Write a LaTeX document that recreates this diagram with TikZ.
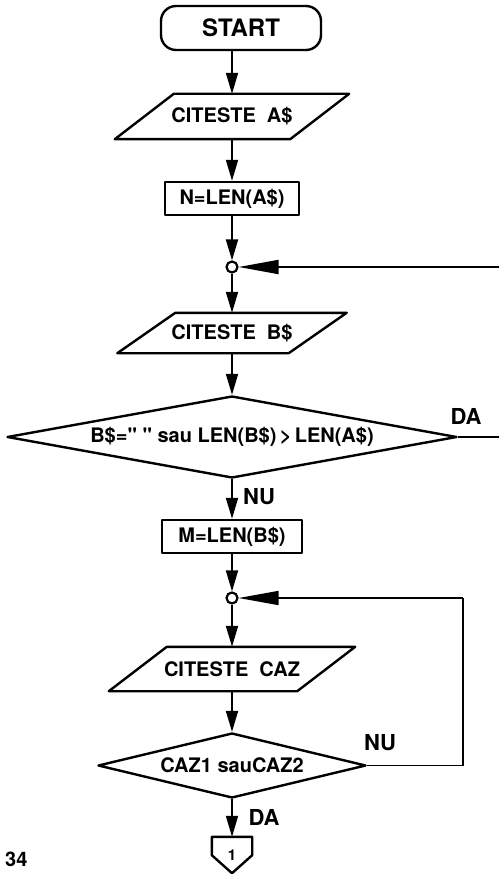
\documentclass[tikz,border=0pt]{standalone}
\usepackage{fontspec}
\setmainfont{TeX Gyre Heros}[Ligatures=TeXOff]
\usetikzlibrary{arrows.meta,shapes.geometric}

% slanted input/output frame drawn around a plain text node
\newcommand\ioframe[2]{%
  \draw[boxline] ([xshift=#2pt]#1.north west) -- ([xshift=#2pt]#1.north east)
    -- ([xshift=-#2pt]#1.south east) -- ([xshift=-#2pt]#1.south west) -- cycle;}

\begin{document}
\begin{tikzpicture}[x=1pt,y=1pt,
  boxline/.style={line width=2.4pt, line join=round},
  boxtext/.style={font=\fontsize{20}{22}\selectfont\bfseries},
  terminal/.style={draw, boxline, rounded corners=15pt, minimum width=160pt,
    minimum height=44pt, inner sep=0pt, font=\fontsize{24}{26}\selectfont\bfseries},
  iobox/.style={boxtext, inner sep=0pt},
  procbox/.style={draw, boxline, boxtext, minimum height=33pt, inner sep=0pt},
  junction/.style={draw, circle, line width=2.2pt, minimum size=11pt, inner sep=0pt},
  decision/.style={draw, diamond, boxline, boxtext, inner sep=2pt},
  exitmark/.style={minimum width=40pt, minimum height=36pt, inner sep=0pt,
    font=\fontsize{15}{15}\selectfont\bfseries},
  lbl/.style={font=\fontsize{22}{22}\selectfont\bfseries, inner sep=0pt},
  link/.style={line width=1.9pt},
  flow/.style={link, -{Triangle[length=21pt,width=12pt]}},
  flowh/.style={link, -{Triangle[length=40pt,width=14pt]}},
  back/.style={line width=1.5pt}]

\useasboundingbox (0,0) rectangle (499,-874);
\fill[white] (0,0) rectangle (499,-874);
\clip (0,0) rectangle (499,-874);

% blocks
\node[terminal] (start) at (241,-28) {START};
\node[iobox, minimum width=175pt, minimum height=45pt] (in1) at (232,-116.5) {CITESTE\ \ A\$};
\ioframe{in1}{29.5}
\node[procbox, minimum width=134pt] (len1) at (232,-198.5) {N=LEN(A\$)};
\node[junction] (j1) at (232,-267) {};
\node[iobox, minimum width=171pt, minimum height=40pt] (in2) at (232,-333) {CITESTE\ \ B\$};
\ioframe{in2}{29}
\node[decision, aspect=6, minimum width=450pt, minimum height=82pt] (d1) at (232,-437)
  {B\$=" " sau LEN(B\$)\,>\,LEN(A\$)};
\node[procbox, minimum width=140pt] (len2) at (232,-536.5) {M=LEN(B\$)};
\node[junction] (j2) at (232,-598) {};
\node[iobox, minimum width=188pt, minimum height=44pt] (in3) at (232,-669) {CITESTE\ \ CAZ};
\ioframe{in3}{29}
\node[decision, aspect=4, minimum width=268pt, minimum height=65pt] (d2) at (232,-765.5)
  {CAZ1 sauCAZ2};
\node[exitmark] (k1) at (232,-855) {1};
\draw[boxline] (k1.north west) -- (k1.north east) -- ([yshift=18pt]k1.south east)
  -- (k1.south) -- ([yshift=18pt]k1.south west) -- cycle;

% branch labels and page number
\node[lbl] (da1) at (466,-416) {DA};
\node[lbl] (nu1) at (259,-497) {NU};
\node[lbl] (nu2) at (380,-743) {NU};
\node[lbl] (da2) at (264,-817) {DA};
\node[font=\fontsize{20}{20}\selectfont\bfseries, anchor=base west, inner sep=0pt] (pg) at (5,-866) {34};

% loose ends leaving / entering at the right margin
\coordinate (exit1) at (499,-437);
\coordinate (entry1) at (499,-267);
\coordinate (loop) at (463,-598);

% connectors
\draw[flow] (start.south -| in1.north) -- (in1.north);
\draw[flow] (in1.south) -- (len1.north);
\draw[flow] (len1.south) -- (j1.north);
\draw[flowh] (entry1) -- (j1.east);
\draw[flow] (j1.south) -- (in2.north);
\draw[flow] (in2.south) -- (d1.north);
\draw[link] (d1.east) -- (exit1);
\draw[flow] (d1.south) -- (len2.north);
\draw[flow] (len2.south) -- (j2.north);
\draw[flow] (j2.south) -- (in3.north);
\draw[flow] (in3.south) -- (d2.north);
\draw[back] (d2.east) -| (loop);
\draw[back, -{Triangle[length=40pt,width=14pt]}] (loop) -- (j2.east);
\draw[flow] (d2.south) -- (k1.north);
\end{tikzpicture}
\end{document}
